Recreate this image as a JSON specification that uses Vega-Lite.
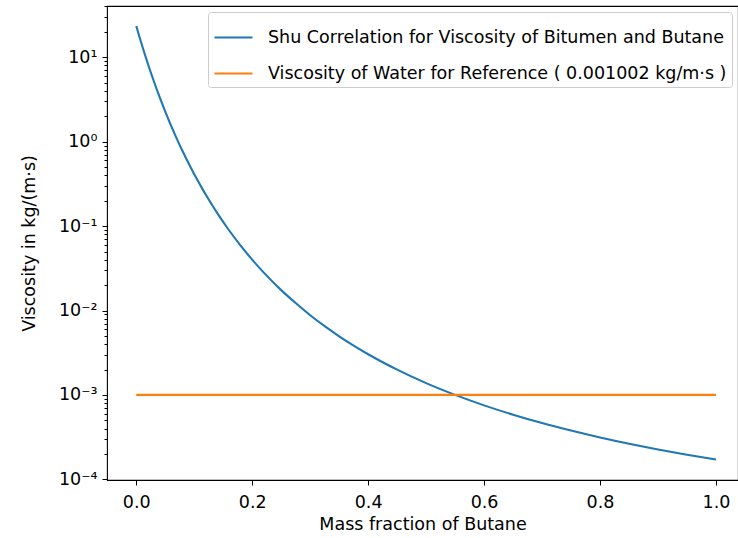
{
  "$schema": "https://vega.github.io/schema/vega-lite/v6.json",
  "autosize": "none",
  "width": 631,
  "height": 474,
  "padding": {"left": 107, "top": 6, "right": 0, "bottom": 58},
  "background": "white",
  "config": {
    "font": "DejaVu Sans",
    "view": {"stroke": "black", "strokeWidth": 1.1},
    "axis": {
      "domain": false,
      "grid": false,
      "tickColor": "black",
      "tickWidth": 1,
      "labelColor": "black",
      "labelFont": "DejaVu Sans",
      "labelFontSize": 17.5,
      "titleFont": "DejaVu Sans",
      "titleFontSize": 17.5,
      "titleFontWeight": "normal",
      "titleColor": "black"
    }
  },
  "data": {
    "values": [
      {"w": 0.0, "mu": 23.5, "series": "shu"},
      {"w": 0.005, "mu": 17.9, "series": "shu"},
      {"w": 0.01, "mu": 13.79, "series": "shu"},
      {"w": 0.015, "mu": 10.7, "series": "shu"},
      {"w": 0.02, "mu": 8.38, "series": "shu"},
      {"w": 0.03, "mu": 5.27, "series": "shu"},
      {"w": 0.04, "mu": 3.41, "series": "shu"},
      {"w": 0.05, "mu": 2.27, "series": "shu"},
      {"w": 0.06, "mu": 1.548, "series": "shu"},
      {"w": 0.07, "mu": 1.08, "series": "shu"},
      {"w": 0.08, "mu": 0.769, "series": "shu"},
      {"w": 0.09, "mu": 0.558, "series": "shu"},
      {"w": 0.1, "mu": 0.4115, "series": "shu"},
      {"w": 0.11, "mu": 0.3094, "series": "shu"},
      {"w": 0.12, "mu": 0.2346, "series": "shu"},
      {"w": 0.13, "mu": 0.1814, "series": "shu"},
      {"w": 0.14, "mu": 0.1414, "series": "shu"},
      {"w": 0.16, "mu": 0.0893, "series": "shu"},
      {"w": 0.18, "mu": 0.0587, "series": "shu"},
      {"w": 0.2, "mu": 0.04, "series": "shu"},
      {"w": 0.22, "mu": 0.0281, "series": "shu"},
      {"w": 0.25, "mu": 0.01744, "series": "shu"},
      {"w": 0.275, "mu": 0.01225, "series": "shu"},
      {"w": 0.3, "mu": 0.00879, "series": "shu"},
      {"w": 0.325, "mu": 0.00652, "series": "shu"},
      {"w": 0.35, "mu": 0.00495, "series": "shu"},
      {"w": 0.375, "mu": 0.00384, "series": "shu"},
      {"w": 0.4, "mu": 0.003034, "series": "shu"},
      {"w": 0.45, "mu": 0.001993, "series": "shu"},
      {"w": 0.5, "mu": 0.00138, "series": "shu"},
      {"w": 0.55, "mu": 0.001001, "series": "shu"},
      {"w": 0.6, "mu": 0.000752, "series": "shu"},
      {"w": 0.65, "mu": 0.000583, "series": "shu"},
      {"w": 0.7, "mu": 0.000464, "series": "shu"},
      {"w": 0.75, "mu": 0.000378, "series": "shu"},
      {"w": 0.8, "mu": 0.000313, "series": "shu"},
      {"w": 0.85, "mu": 0.000264, "series": "shu"},
      {"w": 0.9, "mu": 0.000226, "series": "shu"},
      {"w": 0.95, "mu": 0.000196, "series": "shu"},
      {"w": 1.0, "mu": 0.000172, "series": "shu"},
      {"w": 0.0, "mu": 0.001002, "series": "water"},
      {"w": 1.0, "mu": 0.001002, "series": "water"}
    ]
  },
  "mark": {"type": "line", "strokeWidth": 2.1, "clip": true, "interpolate": "monotone"},
  "encoding": {
    "x": {
      "field": "w",
      "type": "quantitative",
      "scale": {"domain": [-0.0505, 1.038], "nice": false, "zero": false},
      "axis": {
        "values": [0, 0.2, 0.4, 0.6, 0.8, 1.0],
        "format": ".1f",
        "tickSize": 5,
        "labelPadding": 8,
        "labelFlush": false,
        "title": "Mass fraction of Butane",
        "titlePadding": 5
      }
    },
    "y": {
      "field": "mu",
      "type": "quantitative",
      "scale": {"type": "log", "domain": [9.82e-5, 40.5], "nice": false},
      "axis": {
        "values": [0.0001, 0.0002, 0.0003, 0.0004, 0.0005, 0.0006, 0.0007, 0.0008, 0.0009,
                   0.001, 0.002, 0.003, 0.004, 0.005, 0.006, 0.007, 0.008, 0.009,
                   0.01, 0.02, 0.03, 0.04, 0.05, 0.06, 0.07, 0.08, 0.09,
                   0.1, 0.2, 0.3, 0.4, 0.5, 0.6, 0.7, 0.8, 0.9,
                   1, 2, 3, 4, 5, 6, 7, 8, 9,
                   10, 20, 30, 40],
        "labelExpr": "datum.value == 10 ? '10¹' : datum.value == 1 ? '10⁰' : datum.value == 0.1 ? '10⁻¹' : datum.value == 0.01 ? '10⁻²' : datum.value == 0.001 ? '10⁻³' : datum.value == 0.0001 ? '10⁻⁴' : ''",
        "labelOverlap": false,
        "labelFlush": false,
        "labelPadding": 5,
        "tickSize": {"condition": {"test": "indexof([10, 1, 0.1, 0.01, 0.001, 0.0001], datum.value) >= 0", "value": 5}, "value": 3},
        "title": "Viscosity in kg/(m·s)",
        "titlePadding": 20
      }
    },
    "color": {
      "field": "series",
      "type": "nominal",
      "scale": {"domain": ["shu", "water"], "range": ["#1f77b4", "#ff7f0e"]},
      "legend": {
        "title": null,
        "orient": "top-right",
        "offset": 6,
        "labelExpr": "datum.value == 'shu' ? 'Shu Correlation for Viscosity of Bitumen and Butane' : 'Viscosity of Water for Reference ( 0.001002 kg/m·s )'",
        "labelFontSize": 17.5,
        "labelFont": "DejaVu Sans",
        "labelColor": "black",
        "labelLimit": 700,
        "labelOffset": 14,
        "symbolType": "stroke",
        "symbolSize": 1444,
        "symbolStrokeWidth": 2.1,
        "rowPadding": 7,
        "padding": 5,
        "fillColor": "white",
        "strokeColor": "#cccccc",
        "cornerRadius": 3
      }
    }
  }
}
